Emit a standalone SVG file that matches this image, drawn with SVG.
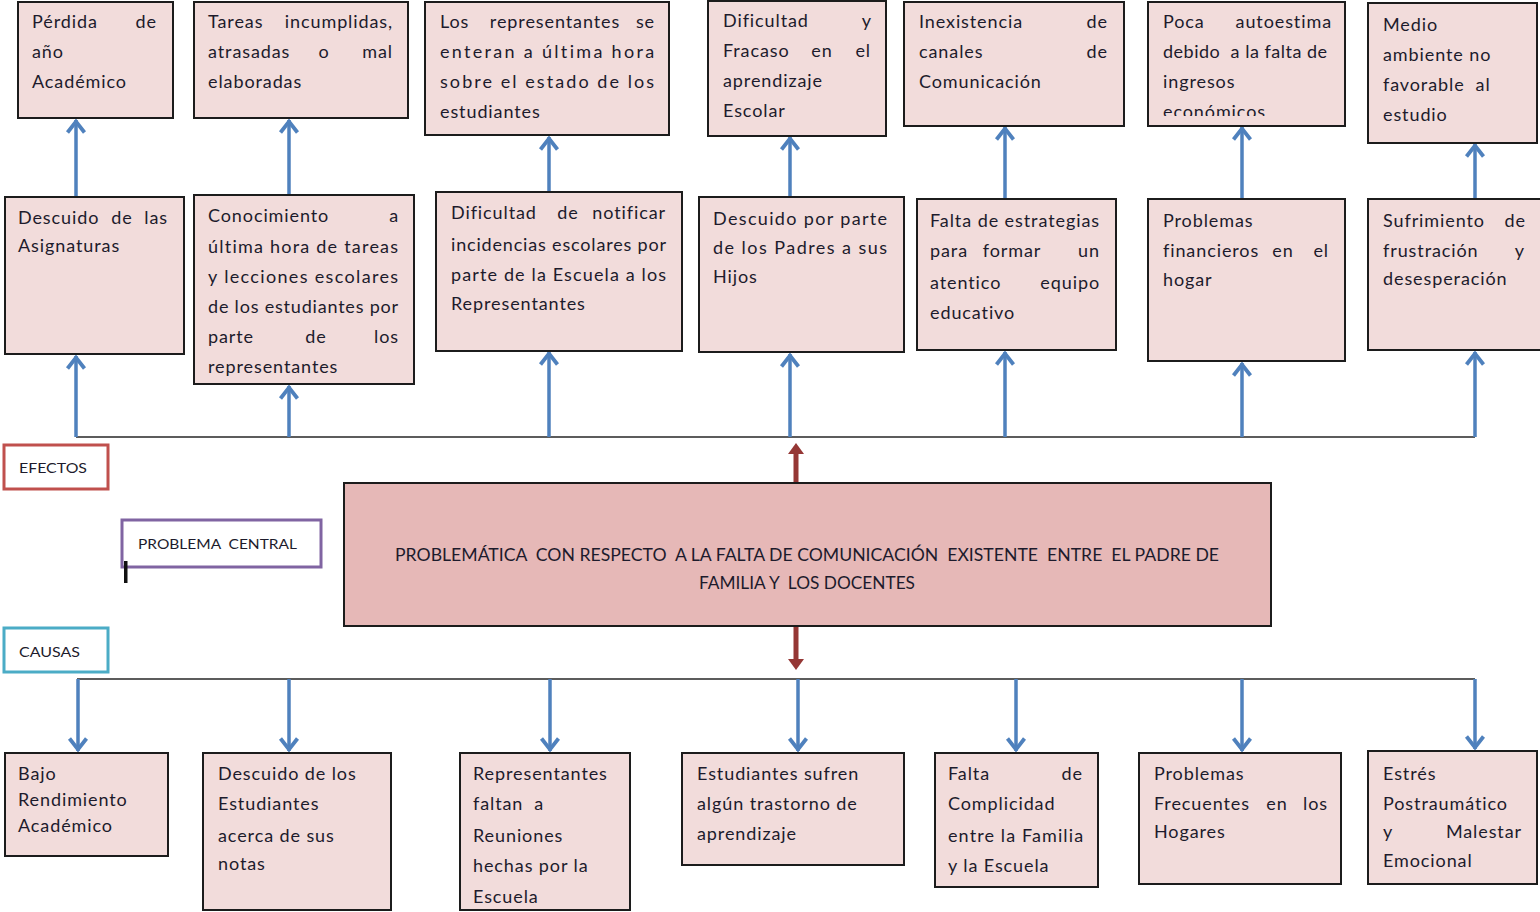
<svg xmlns="http://www.w3.org/2000/svg" width="1540" height="912" viewBox="0 0 1540 912">
  <style>
    .box { fill: #F2DCDB; stroke: #1c1c1c; stroke-width: 2; }
    .core { fill: #E6B8B7; stroke: #1c1c1c; stroke-width: 2; }
    .t { font-family: Lato, "Open Sans", "Liberation Sans", sans-serif; font-size: 18px; fill: #1d1b2c; letter-spacing: 0.9px; white-space: pre; }
    .c { font-family: Lato, "Open Sans", "Liberation Sans", sans-serif; font-size: 17px; fill: #1d1b2c; white-space: pre; }
    .lg { font-family: Lato, "Open Sans", "Liberation Sans", sans-serif; font-size: 13.5px; fill: #1d1b2c; white-space: pre; }
    .e { text-anchor: end; }
    .m { text-anchor: middle; }
    .bus { stroke: #262626; stroke-width: 1.6; fill: none; }
    .arr { stroke: #4F81BD; stroke-width: 3.5; fill: none; marker-end: url(#chev); }
    .red { fill: #953735; }
  </style>
  <defs>
    <marker id="chev" markerUnits="userSpaceOnUse" markerWidth="40" markerHeight="40" viewBox="-20 -20 40 40" refX="0" refY="0" orient="auto" overflow="visible">
      <path d="M-12.5,-8.5 L-1.5,0 L-12.5,8.5" fill="none" stroke="#4F81BD" stroke-width="3.8" stroke-linejoin="miter"/>
    </marker>
    <clipPath id="clip-e6"><rect x="1148" y="2" width="197" height="114"/></clipPath>
  </defs>

  <rect width="1540" height="912" fill="#ffffff"/>

  <!-- connectors -->
  <g id="connectors">
    <!-- effects bus -->
    <line class="bus" x1="76" y1="437" x2="1475" y2="437"/>
    <line class="arr" x1="76" y1="437" x2="76" y2="356"/>
    <line class="arr" x1="289" y1="437" x2="289" y2="386"/>
    <line class="arr" x1="549" y1="437" x2="549" y2="352"/>
    <line class="arr" x1="790" y1="437" x2="790" y2="354"/>
    <line class="arr" x1="1005" y1="437" x2="1005" y2="352"/>
    <line class="arr" x1="1242" y1="437" x2="1242" y2="363"/>
    <line class="arr" x1="1475" y1="437" x2="1475" y2="352"/>
    <!-- second level effects up to first level -->
    <line class="arr" x1="76" y1="197" x2="76" y2="120"/>
    <line class="arr" x1="289" y1="195" x2="289" y2="120"/>
    <line class="arr" x1="549" y1="192" x2="549" y2="137"/>
    <line class="arr" x1="790" y1="197" x2="790" y2="137"/>
    <line class="arr" x1="1005" y1="199" x2="1005" y2="127"/>
    <line class="arr" x1="1242" y1="199" x2="1242" y2="127"/>
    <line class="arr" x1="1475" y1="199" x2="1475" y2="144"/>
    <!-- central problem arrows -->
    <rect class="red" x="793.5" y="452" width="5" height="30"/>
    <polygon class="red" points="788,454 796,443 804,454"/>
    <rect class="red" x="793.5" y="627" width="5" height="34"/>
    <polygon class="red" points="788,659 796,670 804,659"/>
    <!-- causes bus -->
    <line class="bus" x1="77" y1="679" x2="1475" y2="679"/>
    <line class="arr" x1="78" y1="679" x2="78" y2="751"/>
    <line class="arr" x1="289" y1="679" x2="289" y2="751"/>
    <line class="arr" x1="550" y1="679" x2="550" y2="751"/>
    <line class="arr" x1="798" y1="679" x2="798" y2="751"/>
    <line class="arr" x1="1016" y1="679" x2="1016" y2="751"/>
    <line class="arr" x1="1242" y1="679" x2="1242" y2="751"/>
    <line class="arr" x1="1475" y1="679" x2="1475" y2="749"/>
  </g>

  <!-- first level effects -->
  <g id="efecto-top-1">
    <rect class="box" x="18" y="2" width="155" height="116"/>
    <text class="t" y="28"><tspan x="32">Pérdida</tspan><tspan class="e" x="157">de</tspan></text>
    <text class="t" x="32" y="58">año</text>
    <text class="t" x="32" y="88">Académico</text>
  </g>
  <g id="efecto-top-2">
    <rect class="box" x="194" y="2" width="214" height="116"/>
    <text class="t" y="28"><tspan x="208">Tareas</tspan><tspan class="e" x="393">incumplidas,</tspan></text>
    <text class="t" y="58"><tspan x="208">atrasadas</tspan><tspan class="m" x="324">o</tspan><tspan class="e" x="393">mal</tspan></text>
    <text class="t" x="208" y="88">elaboradas</text>
  </g>
  <g id="efecto-top-3">
    <rect class="box" x="425" y="2" width="244" height="133"/>
    <text class="t" y="28"><tspan x="440">Los</tspan><tspan class="m" x="555">representantes</tspan><tspan class="e" x="655">se</tspan></text>
    <text class="t" x="440" y="58" textLength="215" lengthAdjust="spacing">enteran a última hora</text>
    <text class="t" x="440" y="88" textLength="215" lengthAdjust="spacing">sobre el estado de los</text>
    <text class="t" x="440" y="118">estudiantes</text>
  </g>
  <g id="efecto-top-4">
    <rect class="box" x="708" y="1" width="178" height="135"/>
    <text class="t" y="27"><tspan x="723">Dificultad</tspan><tspan class="e" x="872">y</tspan></text>
    <text class="t" y="57"><tspan x="723">Fracaso</tspan><tspan class="m" x="822">en</tspan><tspan class="e" x="871">el</tspan></text>
    <text class="t" x="723" y="87">aprendizaje</text>
    <text class="t" x="723" y="117">Escolar</text>
  </g>
  <g id="efecto-top-5">
    <rect class="box" x="904" y="2" width="220" height="124"/>
    <text class="t" y="28"><tspan x="919">Inexistencia</tspan><tspan class="e" x="1108">de</tspan></text>
    <text class="t" y="58"><tspan x="919">canales</tspan><tspan class="e" x="1108">de</tspan></text>
    <text class="t" x="919" y="88">Comunicación</text>
  </g>
  <g id="efecto-top-6">
    <rect class="box" x="1148" y="2" width="197" height="124"/>
    <text class="t" y="28"><tspan x="1163">Poca</tspan><tspan class="e" x="1332">autoestima</tspan></text>
    <text class="t" x="1163" y="58" textLength="165" lengthAdjust="spacing">debido  a la falta de</text>
    <text class="t" x="1163" y="88">ingresos</text>
    <text class="t" x="1163" y="118" clip-path="url(#clip-e6)">económicos</text>
  </g>
  <g id="efecto-top-7">
    <rect class="box" x="1368" y="3" width="169" height="140"/>
    <text class="t" x="1383" y="31">Medio</text>
    <text class="t" x="1383" y="61">ambiente no</text>
    <text class="t" x="1383" y="91">favorable  al</text>
    <text class="t" x="1383" y="121">estudio</text>
  </g>

  <!-- second level effects -->
  <g id="efecto-1">
    <rect class="box" x="5" y="197" width="179" height="157"/>
    <text class="t" y="224"><tspan x="18">Descuido</tspan><tspan class="m" x="122">de</tspan><tspan class="e" x="168">las</tspan></text>
    <text class="t" x="18" y="252">Asignaturas</text>
  </g>
  <g id="efecto-2">
    <rect class="box" x="194" y="195" width="220" height="189"/>
    <text class="t" y="222"><tspan x="208">Conocimiento</tspan><tspan class="e" x="399">a</tspan></text>
    <text class="t" x="208" y="253" textLength="191" lengthAdjust="spacing">última hora de tareas</text>
    <text class="t" x="208" y="283" textLength="191" lengthAdjust="spacing">y lecciones escolares</text>
    <text class="t" x="208" y="313" textLength="191" lengthAdjust="spacing">de los estudiantes por</text>
    <text class="t" y="343"><tspan x="208">parte</tspan><tspan class="m" x="316">de</tspan><tspan class="e" x="399">los</tspan></text>
    <text class="t" x="208" y="373">representantes</text>
  </g>
  <g id="efecto-3">
    <rect class="box" x="436" y="192" width="246" height="159"/>
    <text class="t" y="219"><tspan x="451">Dificultad</tspan><tspan class="m" x="568">de</tspan><tspan class="e" x="666">notificar</tspan></text>
    <text class="t" x="451" y="251" textLength="216" lengthAdjust="spacing">incidencias escolares por</text>
    <text class="t" x="451" y="281" textLength="216" lengthAdjust="spacing">parte de la Escuela a los</text>
    <text class="t" x="451" y="310">Representantes</text>
  </g>
  <g id="efecto-4">
    <rect class="box" x="699" y="197" width="205" height="155"/>
    <text class="t" x="713" y="225" textLength="175" lengthAdjust="spacing">Descuido por parte</text>
    <text class="t" x="713" y="254" textLength="175" lengthAdjust="spacing">de los Padres a sus</text>
    <text class="t" x="713" y="283">Hijos</text>
  </g>
  <g id="efecto-5">
    <rect class="box" x="917" y="199" width="199" height="151"/>
    <text class="t" x="930" y="227" textLength="170" lengthAdjust="spacing">Falta de estrategias</text>
    <text class="t" y="257"><tspan x="930">para</tspan><tspan class="m" x="1012">formar</tspan><tspan class="e" x="1100">un</tspan></text>
    <text class="t" y="289"><tspan x="930">atentico</tspan><tspan class="e" x="1100">equipo</tspan></text>
    <text class="t" x="930" y="319">educativo</text>
  </g>
  <g id="efecto-6">
    <rect class="box" x="1148" y="199" width="197" height="162"/>
    <text class="t" x="1163" y="227">Problemas</text>
    <text class="t" y="257"><tspan x="1163">financieros</tspan><tspan class="m" x="1283">en</tspan><tspan class="e" x="1329">el</tspan></text>
    <text class="t" x="1163" y="286">hogar</text>
  </g>
  <g id="efecto-7">
    <rect class="box" x="1368" y="199" width="176" height="151"/>
    <text class="t" y="227"><tspan x="1383">Sufrimiento</tspan><tspan class="e" x="1526">de</tspan></text>
    <text class="t" y="257"><tspan x="1383">frustración</tspan><tspan class="e" x="1525">y</tspan></text>
    <text class="t" x="1383" y="285">desesperación</text>
  </g>

  <!-- legend labels -->
  <g id="leyenda-efectos">
    <rect x="4" y="445" width="104" height="44" fill="#ffffff" stroke="#C0504D" stroke-width="3"/>
    <text class="lg" x="19" y="473" textLength="68" lengthAdjust="spacingAndGlyphs">EFECTOS</text>
  </g>
  <g id="leyenda-problema">
    <rect x="122" y="520" width="199" height="47" fill="#ffffff" stroke="#8064A2" stroke-width="3"/>
    <text class="lg" x="138" y="549" textLength="159" lengthAdjust="spacingAndGlyphs">PROBLEMA  CENTRAL</text>
    <rect x="124" y="561" width="3.5" height="22" fill="#111111"/>
  </g>
  <g id="leyenda-causas">
    <rect x="4" y="628" width="104" height="44" fill="#ffffff" stroke="#4BACC6" stroke-width="3"/>
    <text class="lg" x="19" y="657" textLength="61" lengthAdjust="spacingAndGlyphs">CAUSAS</text>
  </g>

  <!-- central problem -->
  <g id="problema-central">
    <rect class="core" x="344" y="483" width="927" height="143"/>
    <text class="c" x="395" y="561" textLength="824" lengthAdjust="spacingAndGlyphs">PROBLEMÁTICA  CON RESPECTO  A LA FALTA DE COMUNICACIÓN  EXISTENTE  ENTRE  EL PADRE DE</text>
    <text class="c" x="699" y="589" textLength="216" lengthAdjust="spacingAndGlyphs">FAMILIA Y  LOS DOCENTES</text>
  </g>

  <!-- causes -->
  <g id="causa-1">
    <rect class="box" x="5" y="753" width="163" height="103"/>
    <text class="t" x="18" y="780">Bajo</text>
    <text class="t" x="18" y="806">Rendimiento</text>
    <text class="t" x="18" y="832">Académico</text>
  </g>
  <g id="causa-2">
    <rect class="box" x="203" y="753" width="188" height="157"/>
    <text class="t" x="218" y="780">Descuido de los</text>
    <text class="t" x="218" y="810">Estudiantes</text>
    <text class="t" x="218" y="842">acerca de sus</text>
    <text class="t" x="218" y="870">notas</text>
  </g>
  <g id="causa-3">
    <rect class="box" x="460" y="753" width="170" height="157"/>
    <text class="t" x="473" y="780">Representantes</text>
    <text class="t" x="473" y="810">faltan  a</text>
    <text class="t" x="473" y="842">Reuniones</text>
    <text class="t" x="473" y="872">hechas por la</text>
    <text class="t" x="473" y="903">Escuela</text>
  </g>
  <g id="causa-4">
    <rect class="box" x="682" y="753" width="222" height="112"/>
    <text class="t" x="697" y="780">Estudiantes sufren</text>
    <text class="t" x="697" y="810">algún trastorno de</text>
    <text class="t" x="697" y="840">aprendizaje</text>
  </g>
  <g id="causa-5">
    <rect class="box" x="935" y="753" width="163" height="134"/>
    <text class="t" y="780"><tspan x="948">Falta</tspan><tspan class="e" x="1083">de</tspan></text>
    <text class="t" x="948" y="810">Complicidad</text>
    <text class="t" x="948" y="842" textLength="136" lengthAdjust="spacing">entre la Familia</text>
    <text class="t" x="948" y="872">y la Escuela</text>
  </g>
  <g id="causa-6">
    <rect class="box" x="1139" y="753" width="202" height="131"/>
    <text class="t" x="1154" y="780">Problemas</text>
    <text class="t" y="810"><tspan x="1154">Frecuentes</tspan><tspan class="m" x="1277">en</tspan><tspan class="e" x="1328">los</tspan></text>
    <text class="t" x="1154" y="838">Hogares</text>
  </g>
  <g id="causa-7">
    <rect class="box" x="1368" y="751" width="169" height="133"/>
    <text class="t" x="1383" y="780">Estrés</text>
    <text class="t" x="1383" y="810">Postraumático</text>
    <text class="t" y="838"><tspan x="1383">y</tspan><tspan class="e" x="1522">Malestar</tspan></text>
    <text class="t" x="1383" y="867">Emocional</text>
  </g>
</svg>
